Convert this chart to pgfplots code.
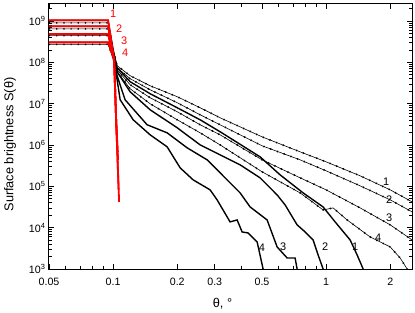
\documentclass[border=0pt]{standalone}
\usepackage{pgfplots}
\pgfplotsset{compat=1.18}
\usepackage{fontspec}
\setmainfont{Liberation Sans}
\begin{document}
\begin{tikzpicture}
\begin{axis}[
 scale only axis, width=363bp, height=265bp,
 xmode=log, ymode=log,
 xmin=0.05, xmax=2.53, ymin=1e3, ymax=2.6e9,
 xtick={0.05,0.1,0.2,0.3,0.5,1,2},
 xticklabels={0.05,0.1,0.2,0.3,0.5,1,2},
 minor xtick={0.06,0.07,0.08,0.09,0.4,0.6,0.7,0.8,0.9},
 ytick={1e3,1e4,1e5,1e6,1e7,1e8,1e9},
 yticklabels={10\textsuperscript{3},10\textsuperscript{4},10\textsuperscript{5},10\textsuperscript{6},10\textsuperscript{7},10\textsuperscript{8},10\textsuperscript{9}},
 minor ytick={2e3,3e3,4e3,5e3,6e3,7e3,8e3,9e3,2e4,3e4,4e4,5e4,6e4,7e4,8e4,9e4,2e5,3e5,4e5,5e5,6e5,7e5,8e5,9e5,2e6,3e6,4e6,5e6,6e6,7e6,8e6,9e6,2e7,3e7,4e7,5e7,6e7,7e7,8e7,9e7,2e8,3e8,4e8,5e8,6e8,7e8,8e8,9e8,2e9},
 major tick length=5bp, minor tick length=3bp,
 tick style={black, line width=0.8pt},
 axis line style={line width=1pt},
 tick label style={font=\fontsize{10.7}{12}\selectfont},
 xticklabel style={yshift=-6bp},
 xlabel={θ, °}, ylabel={Surface brightness S(θ)},
 label style={font=\fontsize{12.8}{14}\selectfont},
 xlabel style={yshift=-5bp, xshift=-8bp},
 ylabel style={yshift=6bp, xshift=-8bp},
 dotted/.style={black, line width=0.6pt, postaction={draw, line width=1.6pt, dash pattern=on 1.2pt off 6pt}},
 solidc/.style={black, line width=1.4pt},
 redc/.style={red, line width=1.8pt},
]
% dotted curves
\addplot[dotted] coordinates {(0.05,9.05e8)(0.0947,9.05e8)(0.1,2.04e8)(0.1044,8.34e7)(0.1202,4.77e7)(0.1492,2.73e7)(0.2,1.48e7)(0.2562,8.0e6)(0.3179,4.58e6)(0.5005,1.58e6)(0.755,6.86e5)(1,3.93e5)(1.4446,1.80e5)(2.0,8.23e4)(2.534,4.21e4)};
\addplot[dotted] coordinates {(0.05,6.47e8)(0.0947,6.47e8)(0.1,1.82e8)(0.1044,7.46e7)(0.1202,4.04e7)(0.1492,2.18e7)(0.2,1.06e7)(0.2562,5.41e6)(0.3179,3.10e6)(0.5005,9.59e5)(0.755,4.39e5)(1,2.38e5)(1.4446,1.03e5)(2.0,4.71e4)(2.534,2.41e4)};
\addplot[dotted] coordinates {(0.05,4.45e8)(0.0947,4.45e8)(0.1,1.54e8)(0.1044,6.67e7)(0.1202,2.89e7)(0.1492,1.40e7)(0.2,6.40e6)(0.2562,3.10e6)(0.3179,1.77e6)(0.5005,4.39e5)(0.755,1.61e5)(1,8.23e4)(1.4446,3.01e4)(2.0,1.17e4)(2.534,5.05e3)};
\addplot[dotted] coordinates {(0.05,2.74e8)(0.0947,2.74e8)(0.1,1.30e8)(0.1044,5.97e7)(0.1202,2.31e7)(0.1492,1.0e7)(0.2,4.09e6)(0.2562,1.98e6)(0.3179,1.01e6)(0.5005,2.25e5)(0.755,6.96e4)(0.9681,2.69e4)(1.0786,3.01e4)(1.2546,1.54e4)(1.6088,5.97e3)(2.0,3.42e3)(2.2253,1.85e3)(2.401,1e3)};
% solid curves
\addplot[solidc] coordinates {(0.05,1.046e9)(0.0947,1.046e9)(0.1,2.04e8)(0.1044,7.46e7)(0.1202,3.42e7)(0.1492,1.75e7)(0.2,8.0e6)(0.2562,4.09e6)(0.3179,2.10e6)(0.4898,5.19e5)(0.6081,1.90e5)(0.7799,6.96e4)(0.9681,3.18e4)(1.1022,1.38e4)(1.2963,5.05e3)(1.3984,2.18e3)(1.4923,1e3)};
\addplot[solidc] coordinates {(0.05,7.48e8)(0.0947,7.48e8)(0.1,1.82e8)(0.1044,5.97e7)(0.1202,1.95e7)(0.1492,7.15e6)(0.2,2.62e6)(0.2562,1.01e6)(0.3179,5.80e5)(0.3947,3.32e5)(0.4898,1.61e5)(0.5888,6.22e4)(0.6419,3.56e4)(0.7308,1.17e4)(0.797,7.89e3)(0.8689,5.05e3)(0.9172,2.18e3)(0.9681,1e3)};
\addplot[solidc] coordinates {(0.05,4.89e8)(0.0947,4.89e8)(0.1,1.54e8)(0.1044,4.77e7)(0.1138,1.25e7)(0.1444,3.10e6)(0.1793,1.98e6)(0.2226,8.58e5)(0.2763,4.39e5)(0.3428,1.44e5)(0.3947,6.96e4)(0.4396,3.18e4)(0.5284,1.54e4)(0.5888,3.42e3)(0.656,1.85e3)(0.7151,1.85e3)(0.7308,1e3)};
\addplot[solidc] coordinates {(0.05,3.06e8)(0.0947,3.06e8)(0.1,1.30e8)(0.1044,3.82e7)(0.1079,1.25e7)(0.1242,4.09e6)(0.1492,1.77e6)(0.1793,9.07e5)(0.2064,2.81e5)(0.2374,1.44e5)(0.2854,8.23e4)(0.3078,4.71e4)(0.3541,1.38e4)(0.3821,1.54e4)(0.4033,7.89e3)(0.4303,7.46e3)(0.4744,4.51e3)(0.506,1e3)};
% red curves
\addplot[redc] coordinates {(0.05,1.046e9)(0.0947,1.046e9)(0.1011,1.17e8)(0.1033,4.09e6)(0.1067,4.21e4)};
\addplot[redc] coordinates {(0.05,7.48e8)(0.0947,7.48e8)(0.1011,1.17e8)(0.1033,4.09e6)(0.1061,8.23e4)};
\addplot[redc] coordinates {(0.05,4.89e8)(0.0947,4.89e8)(0.1011,1.17e8)(0.1033,4.09e6)(0.1055,4.39e5)};
\addplot[redc] coordinates {(0.05,3.06e8)(0.0947,3.06e8)(0.1011,1.17e8)(0.1033,4.09e6)(0.105,6.86e5)};
% labels
\begin{scope}[every node/.style={font=\fontsize{11}{12}\selectfont, inner sep=0pt}]
\node[red] at (axis cs:0.1,1.52e9) {1};
\node[red] at (axis cs:0.1067,6.58e8) {2};
\node[red] at (axis cs:0.1127,3.37e8) {3};
\node[red] at (axis cs:0.1138,1.72e8) {4};
\node at (axis cs:1.913,1.28e5) {1};
\node at (axis cs:1.976,4.71e4) {2};
\node at (axis cs:1.976,1.72e4) {3};
\node at (axis cs:1.754,5.65e3) {4};
\node at (axis cs:0.5,3.23e3) {4};
\node at (axis cs:0.628,3.4e3) {3};
\node at (axis cs:0.989,3.4e3) {2};
\node at (axis cs:1.368,3.4e3) {1};
\end{scope}
\end{axis}
\pgfresetboundingbox
\path[use as bounding box] (current axis.south west) ++(-49bp,-44bp) rectangle ([shift={(3bp,4bp)}]current axis.north east);
\end{tikzpicture}
\end{document}
